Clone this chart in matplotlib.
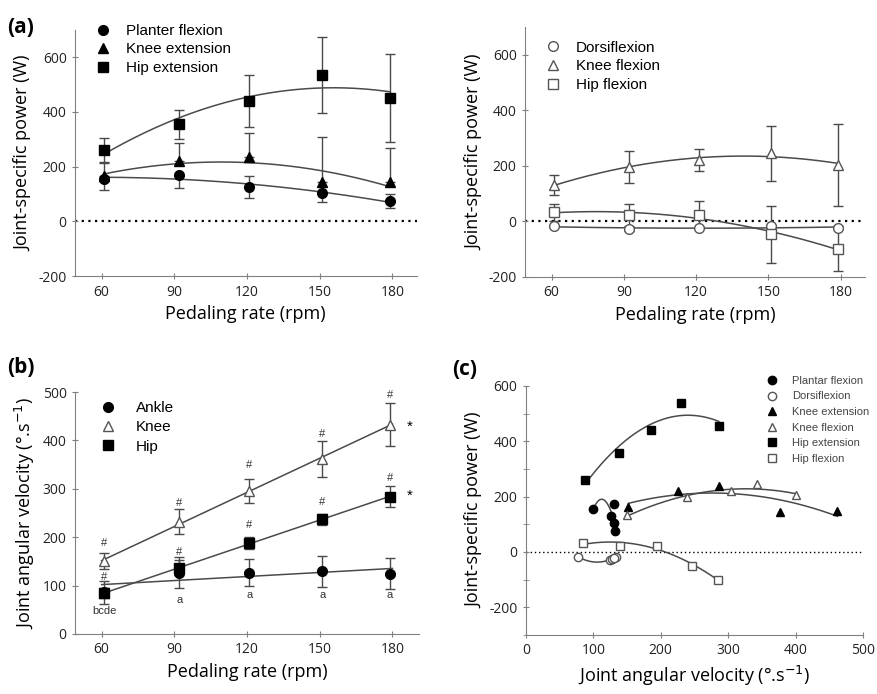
import matplotlib.pyplot as plt
from matplotlib.lines import Line2D
import numpy as np

# pedaling rates (nominal ticks) and measured cadences where the markers sit
rates = [61, 92, 121, 151, 179]

# (a) left: positive joint powers (W)
plantar_flex = [155, 171, 127, 103, 74]
plantar_lo = [39, 49, 40, 31, 24]
plantar_hi = [0, 0, 40, 0, 26]
knee_ext = [165, 222, 237, 143, 145]
knee_ext_hi = [53, 63, 85, 166, 125]
hip_ext = [260, 355, 440, 535, 452]
hip_ext_err = [45, 52, 95, 138, 160]

# (a) right: flexion powers (W)
dorsi_flex = [-17, -29, -24, -18, -23]
dorsi_err = [5, 6, 5, 6, 5]
knee_flex = [131, 196, 221, 245, 204]
knee_flex_err = [36, 56, 38, 99, 147]
hip_flex = [33, 24, 24, -46, -100]
hip_flex_err = [30, 39, 49, 103, 79]

# (b) joint angular velocity (deg/s)
ankle_vel = [86, 127, 127, 130, 125]
ankle_vel_err = [24, 33, 27, 32, 32]
knee_vel = [151, 232, 295, 362, 433]
knee_vel_err = [16, 26, 25, 37, 45]
hip_vel = [84, 137, 188, 237, 284]
hip_vel_err = [10, 16, 12, 12, 22]
knee_hash = [188, 270, 349, 414, 495]
hip_hash = [118, 170, 225, 273, 323]
a_marks = [70, 80, 80, 80]

# (c) power vs angular velocity
pf_x = [100, 126, 130, 131, 132]
pf_y = [156, 129, 172, 104, 75]
df_x = [77, 124, 128, 133, 130]
df_y = [-17, -29, -24, -19, -22]
ke_x = [152, 225, 286, 377, 462]
ke_y = [162, 222, 238, 143, 147]
kf_x = [150, 239, 304, 343, 400]
kf_y = [132, 198, 220, 244, 204]
he_x = [88, 138, 185, 230, 286]
he_y = [261, 358, 442, 539, 454]
hf_x = [85, 140, 195, 247, 285]
hf_y = [31, 23, 23, -51, -101]

LINE = '#4a4a4a'
SPINE = '#808080'
OPEN_EDGE = '#555555'
label_font = ['Open Sans', 'DejaVu Sans']
leg_font = 'Liberation Sans'

plt.rcParams['font.family'] = label_font
plt.rcParams['axes.unicode_minus'] = False
fig = plt.figure(figsize=(8.78, 6.94), dpi=100)

def style(ax):
    for s in ['top', 'right']:
        ax.spines[s].set_visible(False)
    for s in ['left', 'bottom']:
        ax.spines[s].set_color(SPINE)
    ax.tick_params(direction='inout', length=5, color=SPINE, labelsize=10,
                   labelcolor='#222222')

def fit(ax, x, y, deg, lo=None, hi=None):
    c = np.polyfit(x, y, deg)
    xs = np.linspace(min(x) if lo is None else lo, max(x) if hi is None else hi, 200)
    ax.plot(xs, np.polyval(c, xs), color=LINE, lw=1.1, zorder=2)

def series(ax, x, y, yerr, marker, filled, ms=7):
    fc = 'black' if filled else 'white'
    ec = 'black' if filled else OPEN_EDGE
    ax.errorbar(x, y, yerr=yerr, fmt=marker, ms=ms, mfc=fc, mec=ec, mew=1,
                ecolor=LINE, elinewidth=1, capsize=3.5, capthick=1, zorder=3)

def handle(marker, filled, ms=7):
    return Line2D([], [], ls='none', marker=marker, ms=ms,
                  mfc='black' if filled else 'white',
                  mec='black' if filled else OPEN_EDGE)

def legend(ax, items, anchor, size, ms=7, **kw):
    hs = [handle(m, f, ms) for m, f, _ in items]
    ax.legend(hs, [t for _, _, t in items], loc='upper left',
              bbox_to_anchor=anchor, frameon=False,
              prop={'family': leg_font, 'size': size}, **kw)

# ---------------- (a) left
ax1 = fig.add_axes([0.0854, 0.602, 0.389, 0.355])
ax1.axhline(0, color='black', ls=(0, (1, 2)), lw=1.6, zorder=1)
for y in [plantar_flex, knee_ext, hip_ext]:
    fit(ax1, rates, y, 2)
series(ax1, rates, plantar_flex, [plantar_lo, plantar_hi], 'o', True)
series(ax1, rates, knee_ext, [[0] * 5, knee_ext_hi], '^', True)
series(ax1, rates, hip_ext, hip_ext_err, 's', True)
ax1.set_xlim(49, 190)
ax1.set_ylim(-200, 700)
ax1.set_xticks([60, 90, 120, 150, 180])
ax1.set_yticks([-200, 0, 200, 400, 600])
ax1.set_xlabel('Pedaling rate (rpm)', fontsize=13)
ax1.set_ylabel('Joint-specific power (W)', fontsize=13)
style(ax1)
legend(ax1, [('o', True, 'Planter flexion'), ('^', True, 'Knee extension'),
             ('s', True, 'Hip extension')], (0.015, 1.08), 11,
       handletextpad=0.9, labelspacing=0.3, handlelength=1.2)
fig.text(0.008, 0.952, '(a)', fontsize=15, fontweight='bold')

# ---------------- (a) right
ax2 = fig.add_axes([0.598, 0.601, 0.387, 0.360])
ax2.axhline(0, color='black', ls=(0, (1, 2)), lw=1.6, zorder=1)
for y in [dorsi_flex, knee_flex, hip_flex]:
    fit(ax2, rates, y, 2)
series(ax2, rates, dorsi_flex, dorsi_err, 'o', False)
series(ax2, rates, knee_flex, knee_flex_err, '^', False)
series(ax2, rates, hip_flex, hip_flex_err, 's', False)
ax2.set_xlim(49, 190)
ax2.set_ylim(-200, 700)
ax2.set_xticks([60, 90, 120, 150, 180])
ax2.set_yticks([-200, 0, 200, 400, 600])
ax2.set_xlabel('Pedaling rate (rpm)', fontsize=13)
ax2.set_ylabel('Joint-specific power (W)', fontsize=13)
style(ax2)
legend(ax2, [('o', False, 'Dorsiflexion'), ('^', False, 'Knee flexion'),
             ('s', False, 'Hip flexion')], (0.015, 1.0), 11,
       handletextpad=0.9, labelspacing=0.3, handlelength=1.2)

# ---------------- (b)
ax3 = fig.add_axes([0.0854, 0.0865, 0.392, 0.3485])
for y in [ankle_vel, knee_vel, hip_vel]:
    fit(ax3, rates, y, 1, 60, 180)
series(ax3, rates, ankle_vel, ankle_vel_err, 'o', True)
series(ax3, rates, knee_vel, knee_vel_err, '^', False)
series(ax3, rates, hip_vel, hip_vel_err, 's', True)
for x, h in zip(rates, knee_hash):
    ax3.text(x, h, '#', ha='center', va='center', fontsize=8, color='#333333',
             family=leg_font)
for x, h in zip(rates, hip_hash):
    ax3.text(x, h, '#', ha='center', va='center', fontsize=8, color='#333333',
             family=leg_font)
for x, h in zip(rates[1:], a_marks):
    ax3.text(x, h, 'a', ha='center', va='center', fontsize=8, color='#333333',
             family=leg_font)
ax3.text(rates[0], 48, 'bcde', ha='center', va='center', fontsize=8,
         color='#333333', family=leg_font)
ax3.text(187, 428, '*', ha='center', va='center', fontsize=11, family=leg_font)
ax3.text(187, 286, '*', ha='center', va='center', fontsize=11, family=leg_font)
ax3.set_xlim(49, 191)
ax3.set_ylim(0, 500)
ax3.set_xticks([60, 90, 120, 150, 180])
ax3.set_yticks([0, 100, 200, 300, 400, 500])
ax3.set_xlabel('Pedaling rate (rpm)', fontsize=13)
ax3.set_ylabel('Joint angular velocity (°.s$^{-1}$)', fontsize=13)
style(ax3)
legend(ax3, [('o', True, 'Ankle'), ('^', False, 'Knee'), ('s', True, 'Hip')],
       (0.03, 1.02), 11, handletextpad=1.2, labelspacing=0.35,
       handlelength=1.2)
fig.text(0.008, 0.462, '(b)', fontsize=15, fontweight='bold')

# ---------------- (c)
ax4 = fig.add_axes([0.599, 0.085, 0.384, 0.359])
ax4.axhline(0, color='black', ls=(0, (1, 2)), lw=1.0, zorder=1)
for x, y in [(pf_x, pf_y), (df_x, df_y), (ke_x, ke_y), (kf_x, kf_y),
             (he_x, he_y), (hf_x, hf_y)]:
    fit(ax4, x, y, 2)
cms = 6
for x, y, m, f in [(pf_x, pf_y, 'o', True), (df_x, df_y, 'o', False),
                   (ke_x, ke_y, '^', True), (kf_x, kf_y, '^', False),
                   (he_x, he_y, 's', True), (hf_x, hf_y, 's', False)]:
    ax4.plot(x, y, m, ms=cms, ls='none', zorder=3,
             mfc='black' if f else 'white', mec='black' if f else OPEN_EDGE)
ax4.set_xlim(0, 500)
ax4.set_ylim(-300, 600)
ax4.set_xticks([0, 100, 200, 300, 400, 500])
ax4.set_yticks([-200, 0, 200, 400, 600])
ax4.set_yticks([-300, -100, 100, 300, 500], minor=True)
ax4.set_xlabel('Joint angular velocity (°.s$^{-1}$)', fontsize=13)
ax4.set_ylabel('Joint-specific power (W)', fontsize=13)
style(ax4)
ax4.tick_params(axis='y', which='minor', direction='inout', length=4, color=SPINE)
legend(ax4, [('o', True, 'Plantar flexion'), ('o', False, 'Dorsiflexion'),
             ('^', True, 'Knee extension'), ('^', False, 'Knee flexion'),
             ('s', True, 'Hip extension'), ('s', False, 'Hip flexion')],
       (0.68, 1.08), 8, ms=cms, handletextpad=1.2, labelspacing=0.5,
       handlelength=1.2, labelcolor='#444444')
fig.text(0.515, 0.46, '(c)', fontsize=15, fontweight='bold')

fig.savefig('out.png', dpi=100)
